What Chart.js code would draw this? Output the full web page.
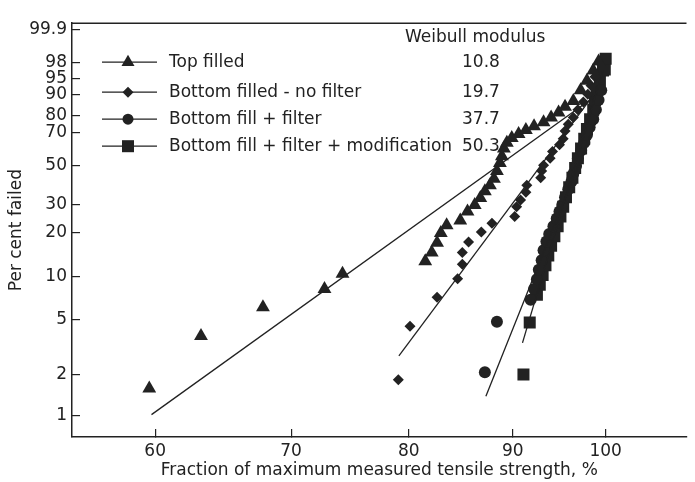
<!DOCTYPE html>
<html>
<head>
<meta charset="utf-8">
<script src="https://cdn.jsdelivr.net/npm/chart.js@4.4.0/dist/chart.umd.min.js"></script>
<style>
  html, body { margin: 0; padding: 0; background: #fff; overflow: hidden; }
  canvas { display: block; }
</style>
</head>
<body>
<canvas id="weibull" width="695" height="482"></canvas>
<script>
// strength (% of max) and per cent failed
const topX = [59.6, 63.2, 67.8, 72.7, 74.2, 81.5, 82.1, 82.6, 82.95, 83.5, 84.8, 85.5, 86.2, 86.75, 87.2, 87.7, 88.1, 88.4, 88.7, 88.9, 89.1, 89.4, 89.9, 90.6, 91.35, 92.2, 93.2, 94.0, 94.8, 95.5, 96.4, 97.2, 97.9, 98.6, 99.2];
const topF = [1.58, 3.8, 6.1, 8.2, 10.5, 12.8, 14.7, 17.1, 19.8, 22.3, 23.9, 27.2, 29.9, 32.9, 36.1, 39.0, 42.5, 46.8, 51.4, 55.4, 60.2, 63.8, 66.8, 69.2, 71.6, 73.9, 76.2, 78.9, 81.6, 84.5, 87.2, 91.5, 94.5, 96.8, 98.2];

const noFiltX = [79.05, 80.1, 82.6, 84.55, 85.0, 85.0, 85.6, 86.85, 87.9, 90.2, 90.4, 90.8, 91.35, 91.45, 92.9, 93.0, 93.2, 93.9, 94.15, 94.9, 95.3, 95.5, 95.85, 96.4, 96.9, 97.5, 98.0, 98.35, 98.8];
const noFiltF = [1.83, 4.46, 7.2, 9.7, 12.2, 14.7, 17.3, 20.1, 22.9, 25.3, 29.1, 32.0, 35.6, 39.0, 43.0, 46.8, 50.0, 54.2, 58.4, 62.6, 66.2, 71.0, 75.0, 78.9, 83.1, 86.8, 90.0, 93.1, 95.5];

const filtX = [87.2, 88.4, 91.85, 92.2, 92.5, 92.7, 93.0, 93.2, 93.5, 93.8, 94.25, 94.6, 94.9, 95.2, 95.5, 95.85, 96.2, 96.4, 96.7, 96.9, 97.25, 97.6, 97.9, 98.2, 98.6, 98.9, 99.2, 99.5];
const filtF = [2.08, 4.8, 6.9, 8.2, 9.6, 11.2, 13.0, 15.2, 17.4, 19.5, 21.9, 24.6, 27.2, 29.9, 33.3, 37.0, 41.0, 45.2, 49.6, 54.2, 59.0, 63.8, 68.6, 73.3, 77.9, 83.1, 87.7, 91.5];

const modX = [91.1, 91.75, 92.5, 92.8, 93.1, 93.4, 93.7, 94.0, 94.35, 94.7, 95.0, 95.3, 95.6, 95.95, 96.3, 96.6, 96.9, 97.25, 97.6, 97.9, 98.25, 98.6, 98.8, 99.0, 99.35, 99.7, 99.9, 100.0];
const modF = [2.0, 4.75, 7.5, 8.8, 10.3, 12.0, 14.0, 16.3, 18.9, 21.9, 25.3, 29.1, 33.3, 38.0, 43.0, 48.5, 54.2, 60.2, 66.2, 72.2, 77.9, 83.1, 87.7, 91.5, 94.5, 96.8, 97.0, 98.5];

// fitted Weibull lines (end points)
const fitTopX = [59.75, 99.0], fitTopF = [1.02, 89.7];
const fitNoFiltX = [79.1, 98.3], fitNoFiltF = [2.73, 88.1];
const fitFiltX = [87.3, 99.4], fitFiltF = [1.39, 82.9];
const fitModX = [91.0, 99.7], fitModF = [3.39, 96.8];

const seriesNames = ['Top filled', 'Bottom filled - no filter', 'Bottom fill + filter', 'Bottom fill + filter + modification'];
const moduli = ['10.8', '19.7', '37.7', '50.3'];

const xTicks = [60, 70, 80, 90, 100];
const yTickLabels = [1, 2, 5, 10, 20, 30, 50, 70, 80, 90, 95, 98, 99.9];

const ink = '#222';
const fontFamily = '"DejaVu Sans", sans-serif';

// Weibull probability transform
function weib(p) { return Math.log(-Math.log(1 - p / 100)); }
function pts(xs, fs) { return xs.map((x, i) => ({ x: x, y: weib(fs[i]) })); }

const styles = [
  { pointStyle: 'triangle', radius: 8, legendRadius: 7.5 },
  { pointStyle: 'rectRot', radius: 5.5, legendRadius: 5.5 },
  { pointStyle: 'circle', radius: 6, legendRadius: 5.5 },
  { pointStyle: 'rect', radius: 8.5, legendRadius: 8.5 }
];

function markers(xs, fs, i) {
  return {
    data: pts(xs, fs),
    showLine: false,
    pointStyle: styles[i].pointStyle,
    pointRadius: styles[i].radius,
    pointBackgroundColor: ink,
    pointBorderWidth: 0
  };
}
function fitLine(xs, fs) {
  return {
    data: pts(xs, fs),
    showLine: true,
    pointRadius: 0,
    borderColor: ink,
    borderWidth: 1.3,
    fill: false
  };
}

const framePlugin = {
  id: 'frame',
  afterDraw(chart) {
    const a = chart.chartArea;
    const ctx = chart.ctx;
    ctx.save();
    ctx.strokeStyle = ink;
    ctx.lineWidth = 1.5;
    ctx.beginPath();
    ctx.moveTo(a.left, a.top);
    ctx.lineTo(a.right, a.top);
    ctx.stroke();
    ctx.restore();
  }
};

const legendPlugin = {
  id: 'weibLegend',
  afterDraw(chart) {
    const a = chart.chartArea;
    const ctx = chart.ctx;
    ctx.save();
    ctx.font = '17px ' + fontFamily;
    ctx.fillStyle = ink;
    ctx.strokeStyle = ink;
    ctx.textBaseline = 'middle';
    ctx.fillText('Weibull modulus', a.left + 333, a.top + 14);
    const rows = [39, 69, 96, 123];
    seriesNames.forEach((name, i) => {
      const y = a.top + rows[i];
      ctx.lineWidth = 1.3;
      ctx.beginPath();
      ctx.moveTo(a.left + 30, y);
      ctx.lineTo(a.left + 85, y);
      ctx.stroke();
      Chart.helpers.drawPoint(ctx, { pointStyle: styles[i].pointStyle, radius: styles[i].legendRadius, rotation: 0, borderWidth: 0 }, a.left + 56, y);
      ctx.fillText(name, a.left + 97, y);
      ctx.fillText(moduli[i], a.left + 390, y);
    });
    ctx.restore();
  }
};

Chart.defaults.font.family = fontFamily;
Chart.defaults.font.size = 17;
Chart.defaults.color = ink;

new Chart(document.getElementById('weibull'), {
  type: 'scatter',
  data: {
    datasets: [
      fitLine(fitTopX, fitTopF),
      fitLine(fitNoFiltX, fitNoFiltF),
      fitLine(fitFiltX, fitFiltF),
      fitLine(fitModX, fitModF),
      markers(topX, topF, 0),
      markers(noFiltX, noFiltF, 1),
      markers(filtX, filtF, 2),
      markers(modX, modF, 3)
    ]
  },
  options: {
    responsive: false,
    animation: false,
    devicePixelRatio: 1,
    layout: { padding: { top: 11, left: 0, right: 0, bottom: 0 } },
    plugins: { legend: { display: false }, tooltip: { enabled: false } },
    scales: {
      x: {
        type: 'logarithmic',
        min: 54.6,
        max: 109.6,
        afterBuildTicks: axis => { axis.ticks = xTicks.map(v => ({ value: v })); },
        afterFit: axis => { axis.height = 45; },
        ticks: { callback: v => String(v), padding: 12, maxRotation: 0, autoSkip: false },
        grid: { drawOnChartArea: false, drawTicks: true, tickLength: -8, color: ink, lineWidth: 1.2 },
        border: { display: true, color: ink, width: 1.5 },
        title: { display: true, text: 'Fraction of maximum measured tensile strength, %', padding: { top: 0, bottom: 1 } }
      },
      y: {
        type: 'linear',
        min: weib(0.7),
        max: weib(99.953),
        afterBuildTicks: axis => { axis.ticks = yTickLabels.map(p => ({ value: weib(p) })); },
        afterFit: axis => { axis.width = 72; },
        ticks: { callback: (v, i) => String(yTickLabels[i]), padding: 13, autoSkip: false },
        grid: { drawOnChartArea: false, drawTicks: true, tickLength: -8, color: ink, lineWidth: 1.2 },
        border: { display: true, color: ink, width: 1.5 },
        title: { display: true, text: 'Per cent failed', padding: { top: 6, bottom: 0 } }
      }
    }
  },
  plugins: [framePlugin, legendPlugin]
});
</script>
</body>
</html>
